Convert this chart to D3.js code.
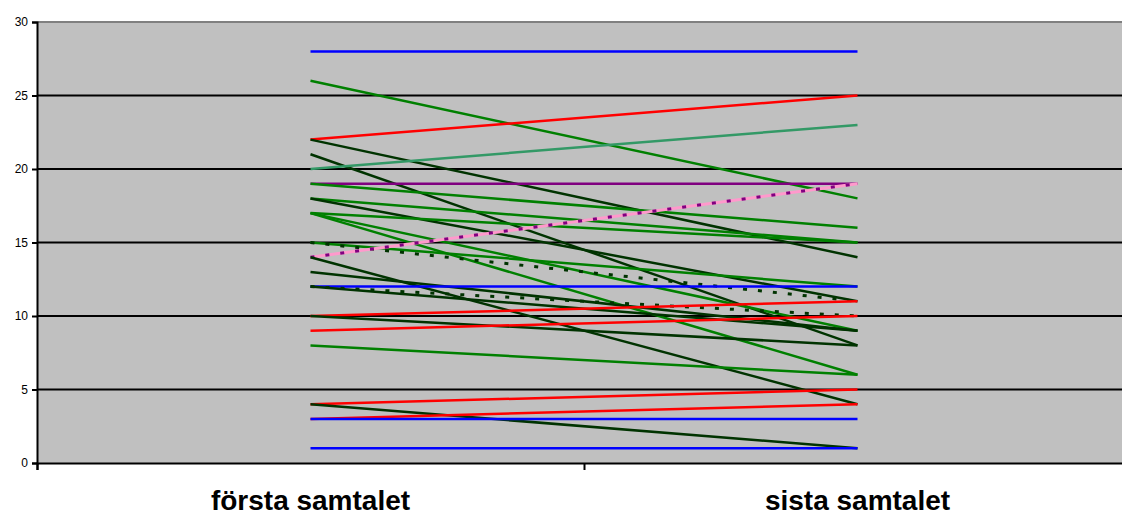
<!DOCTYPE html>
<html>
<head>
<meta charset="utf-8">
<script src="https://cdn.jsdelivr.net/npm/d3@7/dist/d3.min.js"></script>
<style>
  html, body { margin: 0; padding: 0; background: #ffffff; }
  svg { display: block; }
</style>
</head>
<body>
<svg id="chart" width="1122" height="516"></svg>
<script>
// ---- data ----
const categories = ["första samtalet", "sista samtalet"];
const yTicks = [0, 5, 10, 15, 20, 25, 30];
// one entry per respondent line
const firstValues = [28, 26, 22, 22, 21, 20, 19, 19, 18, 18, 17, 17, 17, 15, 15, 14, 14, 13, 12, 12, 12, 10, 10, 9, 8, 4, 4, 3, 3, 1];
const lastValues  = [28, 18, 25, 14,  8, 23, 19, 16, 15, 11, 15,  9,  6, 12, 11, 19,  4,  9, 12,  9, 10, 11,  8, 10, 6, 5, 1, 4, 3, 1];
const seriesGroup = ["blue", "green", "red", "dark", "dark", "sea", "purple", "green", "green", "dark",
                     "green", "green", "green", "green", "darkdot", "pinkdot", "dark", "dark", "blue", "dark",
                     "darkdot", "red", "dark", "red", "green", "red", "dark", "red", "blue", "blue"];

// ---- styles ----
const styles = {
  blue:    { color: "#0000FF" },
  red:     { color: "#FF0000" },
  green:   { color: "#008000" },
  dark:    { color: "#003300" },
  sea:     { color: "#339966" },
  purple:  { color: "#800080" },
  darkdot: { color: "#003300", dash: "4,11" },
  pinkdot: { color: "#800080", dash: "4,11", under: "#FF99CC" }
};

const svg = d3.select("#chart");
const mLeft = 37, mTop = 22, mBottom = 463;
const bandW = 547;
const mRight = mLeft + bandW * categories.length;

const x = d3.scaleBand().domain(categories).range([mLeft, mRight]).padding(0);
const xb = d3.scaleLinear().domain([0, categories.length]).range([mLeft, mRight]);
const y = d3.scaleLinear().domain([0, 30]).range([mBottom, mTop]);

// plot background
svg.append("rect")
  .attr("x", mLeft).attr("y", mTop)
  .attr("width", mRight - mLeft).attr("height", mBottom - mTop)
  .attr("fill", "#C0C0C0");

// top border
svg.append("line")
  .attr("x1", mLeft).attr("x2", mRight)
  .attr("y1", y(30)).attr("y2", y(30))
  .attr("stroke", "#808080").attr("stroke-width", 2);

// gridlines
svg.append("g").selectAll("line")
  .data(yTicks.filter(d => d > 0 && d < 30))
  .join("line")
  .attr("x1", mLeft).attr("x2", mRight)
  .attr("y1", d => y(d)).attr("y2", d => y(d))
  .attr("stroke", "#000").attr("stroke-width", 2);

// series lines
const data = firstValues.map((v, i) => ({ a: v, b: lastValues[i], g: seriesGroup[i] }));
const cx = c => x(c) + x.bandwidth() / 2;
const gLines = svg.append("g");
data.forEach(d => {
  const st = styles[d.g];
  const pts = [[cx(categories[0]), y(d.a)], [cx(categories[1]), y(d.b)]];
  if (st.under) {
    gLines.append("line")
      .attr("x1", pts[0][0]).attr("y1", pts[0][1])
      .attr("x2", pts[1][0]).attr("y2", pts[1][1])
      .attr("stroke", st.under).attr("stroke-width", 3);
  }
  gLines.append("line")
    .attr("x1", pts[0][0]).attr("y1", pts[0][1])
    .attr("x2", pts[1][0]).attr("y2", pts[1][1])
    .attr("stroke", st.color)
    .attr("stroke-width", st.dash ? 3 : 2.5)
    .attr("stroke-dasharray", st.dash || null);
});

// y axis
const yAxis = svg.append("g")
  .attr("transform", `translate(${mLeft},0)`)
  .call(d3.axisLeft(y).tickValues(yTicks).tickSize(5).tickPadding(4).tickFormat(d3.format("d")));
yAxis.select(".domain").attr("stroke", "#000").attr("stroke-width", 2);
yAxis.selectAll(".tick line").attr("stroke", "#000").attr("stroke-width", 2);
yAxis.selectAll(".tick text")
  .attr("font-family", "Arial, 'Liberation Sans', sans-serif")
  .attr("font-size", 12).attr("fill", "#000");

// x axis
const xAxis = svg.append("g")
  .attr("transform", `translate(0,${mBottom})`)
  .call(d3.axisBottom(xb).tickValues(d3.range(categories.length + 1)).tickSize(7).tickFormat(""));
xAxis.select(".domain").attr("stroke", "#000").attr("stroke-width", 2);
xAxis.selectAll(".tick line").attr("stroke", "#000").attr("stroke-width", 2);

// category labels
svg.append("g").selectAll("text")
  .data(categories)
  .join("text")
  .attr("x", d => cx(d))
  .attr("y", 510)
  .attr("text-anchor", "middle")
  .attr("font-family", "Arial, 'Liberation Sans', sans-serif")
  .attr("font-weight", "bold")
  .attr("font-size", 28)
  .attr("fill", "#000")
  .text(d => d);
</script>
</body>
</html>
